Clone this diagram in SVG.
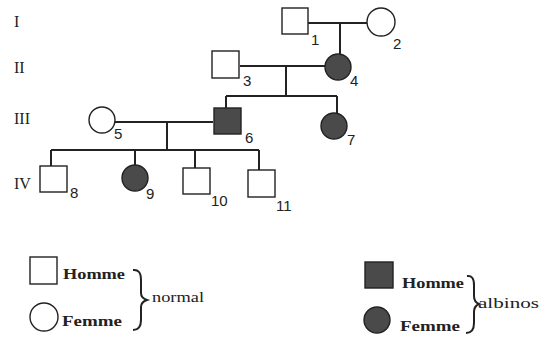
<svg xmlns="http://www.w3.org/2000/svg" width="542" height="338" viewBox="0 0 542 338">
<style>
.n{fill:#fff;stroke:#222;stroke-width:1.4}
.a{fill:#4a4a4a;stroke:#222;stroke-width:1.4}
.l{fill:none;stroke:#222;stroke-width:2}
.g{font-family:"Liberation Serif",serif;font-size:16px;fill:#222}
.t{font-family:"Liberation Sans",sans-serif;font-size:15px;fill:#222}
.k{font-family:"Liberation Serif",serif;font-size:15px;font-weight:bold;fill:#222}
.w{font-family:"Liberation Serif",serif;font-size:15px;fill:#222}
</style>
<rect width="542" height="338" fill="#fff"/>
<g id="gen-labels">
<text class="g" x="14" y="27">I</text>
<text class="g" x="14" y="73">II</text>
<text class="g" x="14" y="124">III</text>
<text class="g" x="14" y="189">IV</text>
</g>
<g id="connectors">
<path class="l" d="M308 23H367M340 23V54"/>
<path class="l" d="M240 66H325M286 66V96M226 96H337M226 96V108M337 96V113"/>
<path class="l" d="M115 122H213M167 122V150M51 150H259M51 150V166M135 150V165M195 150V168M259 150V170"/>
</g>
<g id="n1"><rect class="n" x="282" y="8" width="26" height="26"/><text class="t" x="311" y="45">1</text></g>
<g id="n2"><circle class="n" cx="381" cy="22" r="14"/><text class="t" x="393" y="49">2</text></g>
<g id="n3"><rect class="n" x="212" y="51" width="27" height="27"/><text class="t" x="243" y="86">3</text></g>
<g id="n4"><circle class="a" cx="338" cy="67" r="13"/><text class="t" x="350" y="86">4</text></g>
<g id="n5"><circle class="n" cx="102" cy="120" r="13"/><text class="t" x="114" y="139">5</text></g>
<g id="n6"><rect class="a" x="214" y="108" width="27" height="26"/><text class="t" x="245" y="143">6</text></g>
<g id="n7"><circle class="a" cx="334" cy="126" r="13"/><text class="t" x="347" y="145">7</text></g>
<g id="n8"><rect class="n" x="40" y="166" width="27" height="26"/><text class="t" x="70" y="198">8</text></g>
<g id="n9"><circle class="a" cx="135" cy="178" r="13"/><text class="t" x="146" y="199">9</text></g>
<g id="n10"><rect class="n" x="183" y="168" width="27" height="26"/><text class="t" x="211" y="206">10</text></g>
<g id="n11"><rect class="n" x="248" y="170" width="27" height="27"/><text class="t" x="276" y="211">11</text></g>
<g id="legend-normal">
<rect class="n" x="30" y="257" width="27" height="27"/>
<text class="k" x="63" y="279" textLength="62" lengthAdjust="spacingAndGlyphs">Homme</text>
<circle class="n" cx="44" cy="317" r="14"/>
<text class="k" x="62" y="326" textLength="60" lengthAdjust="spacingAndGlyphs">Femme</text>
<path class="l" d="M133 270Q141 269 141 280V293Q141 298 147 300Q141 302 141 307V320Q141 330 133 330"/>
<text class="w" x="152" y="302" textLength="52" lengthAdjust="spacingAndGlyphs">normal</text>
</g>
<g id="legend-albinos">
<rect class="a" x="365" y="262" width="28" height="26"/>
<text class="k" x="402" y="288" textLength="62" lengthAdjust="spacingAndGlyphs">Homme</text>
<circle class="a" cx="377" cy="320" r="13"/>
<text class="k" x="400" y="331" textLength="60" lengthAdjust="spacingAndGlyphs">Femme</text>
<path class="l" d="M467 276Q474 275 474 285V296Q474 302 479 304Q474 306 474 312V323Q474 333 466 333"/>
<text class="w" x="478" y="308" textLength="61" lengthAdjust="spacingAndGlyphs">albinos</text>
</g>
</svg>
